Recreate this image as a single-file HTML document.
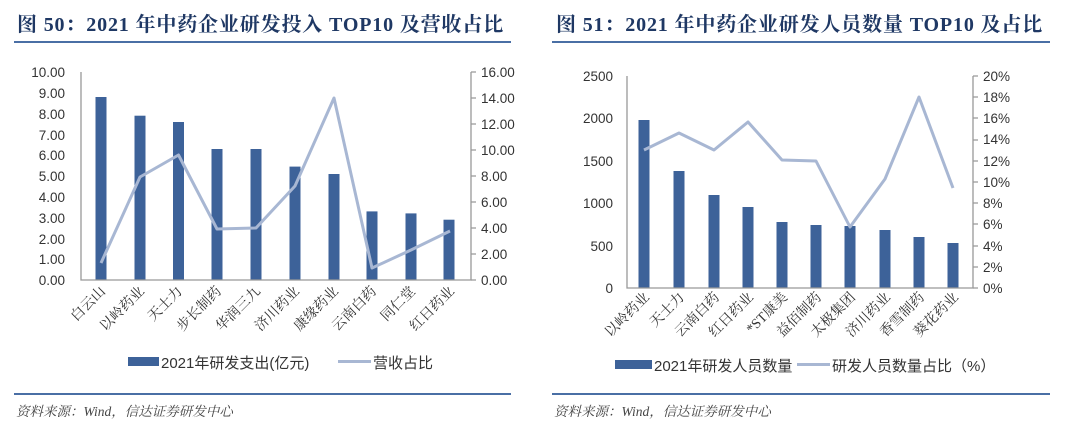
<!DOCTYPE html>
<html><head><meta charset="utf-8"><style>
html,body{margin:0;padding:0;background:#fff;}
svg{display:block;}
.t{font-family:"Liberation Serif","Noto Serif CJK SC",serif;font-weight:bold;font-size:20px;fill:#1f3864;letter-spacing:0.85px;}
.ax{font-family:"Liberation Sans","Noto Sans CJK SC",sans-serif;font-size:13.5px;fill:#333;}
.xl{font-family:"Liberation Serif","Noto Serif CJK SC",serif;font-size:14px;fill:#333;}
.lg{font-family:"Liberation Sans","Noto Sans CJK SC",sans-serif;font-size:15px;fill:#333;}
.src{font-family:"Liberation Serif","Noto Serif CJK SC",serif;font-style:italic;font-size:13.5px;fill:#444;}
</style></head><body>
<svg width="1080" height="428" viewBox="0 0 1080 428" xmlns="http://www.w3.org/2000/svg">
<rect width="1080" height="428" fill="#fff"/>
<!-- LEFT -->
<text class="t" x="17" y="31">图 50：2021 年中药企业研发投入 TOP10 及营收占比</text>
<rect x="14" y="41" width="497" height="2" fill="#4a6fa5"/>
<g class="ax" text-anchor="end">
<text x="65" y="77">10.00</text><text x="65" y="98">9.00</text><text x="65" y="119">8.00</text><text x="65" y="140">7.00</text><text x="65" y="160">6.00</text><text x="65" y="181">5.00</text><text x="65" y="202">4.00</text><text x="65" y="223">3.00</text><text x="65" y="244">2.00</text><text x="65" y="264">1.00</text><text x="65" y="285">0.00</text>
</g>
<g class="ax"><text x="481" y="77">16.00</text><text x="481" y="103">14.00</text><text x="481" y="129">12.00</text><text x="481" y="155">10.00</text><text x="481" y="181">8.00</text><text x="481" y="207">6.00</text><text x="481" y="233">4.00</text><text x="481" y="259">2.00</text><text x="481" y="285">0.00</text></g>
<g fill="#3d6299">
<rect x="95.5" y="97" width="11" height="183"/><rect x="134.5" y="115.7" width="11" height="164.3"/><rect x="173" y="122" width="11" height="158"/><rect x="211.5" y="149" width="11" height="131"/><rect x="250.5" y="149" width="11" height="131"/><rect x="289.5" y="166.6" width="11" height="113.4"/><rect x="328.5" y="174" width="11" height="106"/><rect x="366.5" y="211.4" width="11" height="68.6"/><rect x="405.5" y="213.4" width="11" height="66.6"/><rect x="443.5" y="219.7" width="11" height="60.3"/>
</g>
<g stroke="#999" stroke-width="1.3" fill="none">
<path d="M81 72V280H471V72"/>
<path d="M471 72h5M471 98h5M471 124h5M471 150h5M471 176h5M471 202h5M471 228h5M471 254h5M471 280h5"/>
</g>
<polyline fill="none" stroke="#a8b7d3" stroke-width="3" stroke-linejoin="round" points="101,263 140,177 178.5,155 217,229 256,228 295,186 334,98 372,268 411,250 450,231"/>
<g class="xl" text-anchor="end">
<text transform="translate(106,292) rotate(-45)">白云山</text>
<text transform="translate(145,292) rotate(-45)">以岭药业</text>
<text transform="translate(183,292) rotate(-45)">天士力</text>
<text transform="translate(222,292) rotate(-45)">步长制药</text>
<text transform="translate(261,292) rotate(-45)">华润三九</text>
<text transform="translate(300,292) rotate(-45)">济川药业</text>
<text transform="translate(339,292) rotate(-45)">康缘药业</text>
<text transform="translate(377,292) rotate(-45)">云南白药</text>
<text transform="translate(416,292) rotate(-45)">同仁堂</text>
<text transform="translate(455,292) rotate(-45)">红日药业</text>
</g>
<rect x="128" y="357" width="31" height="9" fill="#3d6299"/>
<text class="lg" x="161" y="368">2021年研发支出(亿元)</text>
<rect x="338" y="360" width="33" height="3" fill="#a8b7d3"/>
<text class="lg" x="373" y="368">营收占比</text>
<rect x="14" y="393" width="497" height="2" fill="#4a6fa5"/>
<text class="src" x="16" y="416">资料来源：Wind，信达证券研发中心</text>

<!-- RIGHT -->
<text class="t" x="556" y="31">图 51：2021 年中药企业研发人员数量 TOP10 及占比</text>
<rect x="552" y="41" width="498" height="2" fill="#4a6fa5"/>
<g class="ax" text-anchor="end">
<text x="613" y="81">2500</text><text x="613" y="123">2000</text><text x="613" y="166">1500</text><text x="613" y="208">1000</text><text x="613" y="251">500</text><text x="613" y="293">0</text>
</g>
<g class="ax"><text x="983" y="81">20%</text><text x="983" y="102">18%</text><text x="983" y="123">16%</text><text x="983" y="144">14%</text><text x="983" y="166">12%</text><text x="983" y="187">10%</text><text x="983" y="208">8%</text><text x="983" y="229">6%</text><text x="983" y="251">4%</text><text x="983" y="272">2%</text><text x="983" y="293">0%</text></g>
<g fill="#3d6299">
<rect x="638.5" y="120" width="11" height="168"/><rect x="673.5" y="171" width="11" height="117"/><rect x="708.5" y="195" width="11" height="93"/><rect x="742.5" y="207" width="11" height="81"/><rect x="776.5" y="222" width="11" height="66"/><rect x="810.5" y="225" width="11" height="63"/><rect x="844.5" y="226" width="11" height="62"/><rect x="879.5" y="230" width="11" height="58"/><rect x="913.5" y="237" width="11" height="51"/><rect x="947.5" y="243" width="11" height="45"/>
</g>
<g stroke="#999" stroke-width="1.3" fill="none">
<path d="M627 76V288H973V76"/>
<path d="M973 76h5M973 97h5M973 118h5M973 140h5M973 161h5M973 182h5M973 203h5M973 224h5M973 246h5M973 267h5M973 288h5"/>
</g>
<polyline fill="none" stroke="#a8b7d3" stroke-width="3" stroke-linejoin="round" points="644,150 679,133 714,150 748,122 782,160 816,161 850,227 885,179 919,97 953,188"/>
<g class="xl" text-anchor="end">
<text transform="translate(650,298) rotate(-45)">以岭药业</text>
<text transform="translate(685,298) rotate(-45)">天士力</text>
<text transform="translate(720,298) rotate(-45)">云南白药</text>
<text transform="translate(754,298) rotate(-45)">红日药业</text>
<text transform="translate(788,298) rotate(-45)">*ST康美</text>
<text transform="translate(822,298) rotate(-45)">益佰制药</text>
<text transform="translate(856,298) rotate(-45)">太极集团</text>
<text transform="translate(891,298) rotate(-45)">济川药业</text>
<text transform="translate(925,298) rotate(-45)">香雪制药</text>
<text transform="translate(959,298) rotate(-45)">葵花药业</text>
</g>
<rect x="615" y="360" width="37" height="9" fill="#3d6299"/>
<text class="lg" x="654" y="371">2021年研发人员数量</text>
<rect x="797" y="363" width="33" height="3" fill="#a8b7d3"/>
<text class="lg" x="832" y="371">研发人员数量占比（%）</text>
<rect x="552" y="393" width="498" height="2" fill="#4a6fa5"/>
<text class="src" x="554" y="416">资料来源：Wind，信达证券研发中心</text>
</svg>
</body></html>
